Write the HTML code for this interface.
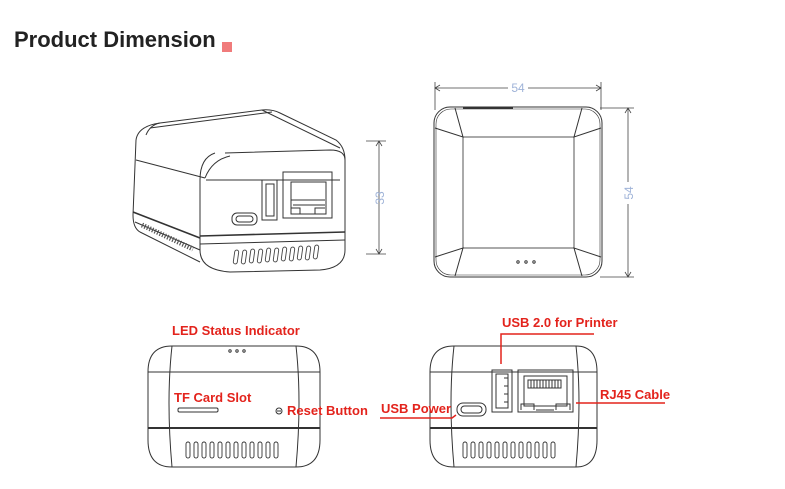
<!DOCTYPE html>
<html><head><meta charset="utf-8"><style>
html,body{margin:0;padding:0;background:#fff;}
svg{display:block}
text{font-family:"Liberation Sans","DejaVu Sans",sans-serif}
.r{fill:#e3231c;font-weight:bold;font-size:13px}
.d{fill:#9fb3d8;font-size:12px}
</style></head><body>
<svg width="785" height="489" viewBox="0 0 785 489" xmlns="http://www.w3.org/2000/svg">
<text x="14" y="47" font-size="22" font-weight="bold" fill="#222">Product Dimension</text>
<rect x="222" y="42" width="10" height="10" fill="#f07b7b"/>

<!-- 3D view -->
<g fill="none" stroke="#333" stroke-width="1">
  <path d="M136 140 Q138 126 160 123 L262 110 Q272 109 280 113 L336 140 Q345 147 345 160"/>
  <path d="M160 123 Q150 125 146 135"/>
  <path d="M136 160 L205 178 M150 128 L272 112"/>
  <path d="M262 110 L340 148"/>
  <path d="M215 153 Q200 158 200 180 L200 250 Q200 270 230 272 L320 270 Q345 268 345 250 L345 160 Q345 150 330 150 L225 153"/>
  <path d="M205 178 Q212 160 230 156"/>
  <path d="M206 180 L340 180"/>
  <path d="M200 236 L345 232" stroke-width="1.6"/>
  <path d="M200 244 L345 240"/>
  <path d="M136 140 L133 215 Q133 228 140 232 L200 262"/>
  <path d="M133 212 L200 238" stroke-width="1.6"/>
  <path d="M135 222 L200 250"/>
  <rect x="232" y="213" width="25" height="12" rx="5"/>
  <rect x="236" y="216" width="17" height="6" rx="3"/>
  <rect x="262" y="180" width="15" height="40"/>
  <rect x="266" y="184" width="8" height="32"/>
  <rect x="283" y="172" width="49" height="46"/>
  <rect x="291" y="182" width="35" height="32"/>
  <path d="M291 200 L325 200 M293 205 L325 205 M291 214 L291 208 L300 208 L300 214 M315 214 L315 208 L325 208"/>
</g>
<g fill="none" stroke="#444" stroke-width="0.9">
  <rect x="234" y="250" width="4" height="14" rx="2" transform="rotate(8 236 257)"/>
  <rect x="242" y="250" width="4" height="14" rx="2" transform="rotate(8 244 257)"/>
  <rect x="250" y="249" width="4" height="14" rx="2" transform="rotate(8 252 256)"/>
  <rect x="258" y="249" width="4" height="14" rx="2" transform="rotate(8 260 256)"/>
  <rect x="266" y="248" width="4" height="14" rx="2" transform="rotate(8 268 255)"/>
  <rect x="274" y="248" width="4" height="14" rx="2" transform="rotate(8 276 255)"/>
  <rect x="282" y="247" width="4" height="14" rx="2" transform="rotate(8 284 254)"/>
  <rect x="290" y="247" width="4" height="14" rx="2" transform="rotate(8 292 254)"/>
  <rect x="298" y="246" width="4" height="14" rx="2" transform="rotate(8 300 253)"/>
  <rect x="306" y="246" width="4" height="14" rx="2" transform="rotate(8 308 253)"/>
  <rect x="314" y="245" width="4" height="14" rx="2" transform="rotate(8 316 252)"/>
  <path d="M142 225 L193 249" stroke="#555" stroke-width="5" stroke-dasharray="1.2 1.6"/>
</g>
<g stroke="#444" stroke-width="0.8" fill="none">
  <path d="M366 141 L386 141 M366 254 L386 254 M379 141 L379 254 M376 146 L379 141 L382 146 M376 249 L379 254 L382 249"/>
</g>
<text class="d" transform="translate(384 198) rotate(-90)" text-anchor="middle">33</text>

<!-- top view -->
<g fill="none" stroke="#333" stroke-width="1">
  <rect x="434" y="107" width="168" height="170" rx="16"/>
  <rect x="436" y="109" width="164" height="166" rx="15" stroke-width="0.6"/>
  <rect x="463" y="137" width="111" height="111" stroke="#555"/>
  <path d="M455 108 L463 137 L435 128 M582 108 L574 137 L601 128 M455 276 L463 248 L435 257 M582 276 L574 248 L601 257"/>
  <path d="M463 108 L513 108" stroke-width="2"/>
  <circle cx="518" cy="262" r="1.2"/><circle cx="526" cy="262" r="1.2"/><circle cx="534" cy="262" r="1.2"/>
</g>
<g stroke="#444" stroke-width="0.8" fill="none">
  <path d="M435 82 L435 110 M601 82 L601 110 M435 88 L508 88 M528 88 L601 88 M440 85 L435 88 L440 91 M596 85 L601 88 L596 91"/>
  <path d="M600 108 L634 108 M600 277 L634 277 M628 108 L628 182 M628 204 L628 277 M625 113 L628 108 L631 113 M625 272 L628 277 L631 272"/>
</g>
<text class="d" x="518" y="92" text-anchor="middle">54</text>
<text class="d" transform="translate(633 193) rotate(-90)" text-anchor="middle">54</text>

<!-- bottom left view -->
<g fill="none" stroke="#333" stroke-width="1">
  <path d="M172 346 L296 346 Q320 346 320 372 L320 440 Q320 467 296 467 L172 467 Q148 467 148 440 L148 372 Q148 346 172 346 Z"/>
  <path d="M172 346 Q166 400 172 467 M296 346 Q302 400 296 467"/>
  <path d="M148 372 L320 372"/>
  <path d="M148 428 L320 428" stroke-width="2"/>
  <rect x="178" y="408" width="40" height="4" rx="1.5"/>
  <circle cx="279" cy="411" r="3"/><path d="M277 411 L281 411"/>
  <circle cx="230" cy="351" r="1.2"/><circle cx="237" cy="351" r="1.2"/><circle cx="244" cy="351" r="1.2"/>
</g>
<g fill="none" stroke="#333" stroke-width="0.9">
  <rect x="186" y="442" width="4" height="16" rx="2"/><rect x="194" y="442" width="4" height="16" rx="2"/>
  <rect x="202" y="442" width="4" height="16" rx="2"/><rect x="210" y="442" width="4" height="16" rx="2"/>
  <rect x="218" y="442" width="4" height="16" rx="2"/><rect x="226" y="442" width="4" height="16" rx="2"/>
  <rect x="234" y="442" width="4" height="16" rx="2"/><rect x="242" y="442" width="4" height="16" rx="2"/>
  <rect x="250" y="442" width="4" height="16" rx="2"/><rect x="258" y="442" width="4" height="16" rx="2"/>
  <rect x="266" y="442" width="4" height="16" rx="2"/><rect x="274" y="442" width="4" height="16" rx="2"/>
</g>
<text class="r" x="172" y="335">LED Status Indicator</text>
<text class="r" x="174" y="402">TF Card Slot</text>
<text class="r" x="287" y="415">Reset Button</text>

<!-- bottom right view -->
<g fill="none" stroke="#333" stroke-width="1">
  <path d="M454 346 L576 346 Q597 346 597 372 L597 440 Q597 467 576 467 L454 467 Q430 467 430 440 L430 372 Q430 346 454 346 Z"/>
  <path d="M454 346 Q448 400 454 467 M576 346 Q582 400 576 467"/>
  <path d="M430 372 L597 372"/>
  <path d="M430 428 L597 428" stroke-width="2"/>
  <rect x="457" y="403" width="29" height="13" rx="6"/>
  <rect x="461" y="406" width="21" height="7" rx="3.5"/>
  <rect x="492" y="370" width="20" height="42"/>
  <rect x="496" y="374" width="12" height="34"/>
  <path d="M504 378 L508 378 M504 386 L508 386 M504 394 L508 394 M504 402 L508 402"/>
  <rect x="518" y="370" width="55" height="42"/>
  <rect x="524" y="376" width="43" height="30"/>
  <path d="M528 380 L561 380 L561 388 L528 388 Z M531 380 L531 388 M534 380 L534 388 M537 380 L537 388 M540 380 L540 388 M543 380 L543 388 M546 380 L546 388 M549 380 L549 388 M552 380 L552 388 M555 380 L555 388 M558 380 L558 388"/>
  <path d="M521 410 L521 404 L534 404 L534 410 M556 410 L556 404 L570 404 L570 410 M536 410 L554 410"/>
</g>
<g fill="none" stroke="#333" stroke-width="0.9">
  <rect x="463" y="442" width="4" height="16" rx="2"/><rect x="471" y="442" width="4" height="16" rx="2"/>
  <rect x="479" y="442" width="4" height="16" rx="2"/><rect x="487" y="442" width="4" height="16" rx="2"/>
  <rect x="495" y="442" width="4" height="16" rx="2"/><rect x="503" y="442" width="4" height="16" rx="2"/>
  <rect x="511" y="442" width="4" height="16" rx="2"/><rect x="519" y="442" width="4" height="16" rx="2"/>
  <rect x="527" y="442" width="4" height="16" rx="2"/><rect x="535" y="442" width="4" height="16" rx="2"/>
  <rect x="543" y="442" width="4" height="16" rx="2"/><rect x="551" y="442" width="4" height="16" rx="2"/>
</g>
<g stroke="#e3231c" stroke-width="1.5" fill="none">
  <path d="M501 364 L501 334 L594 334"/>
  <path d="M380 418 L452 418 L456 415"/>
  <path d="M576 403 L665 403"/>
</g>
<text class="r" x="502" y="327">USB 2.0 for Printer</text>
<text class="r" x="381" y="413">USB Power</text>
<text class="r" x="600" y="399">RJ45 Cable</text>
</svg>
</body></html>
